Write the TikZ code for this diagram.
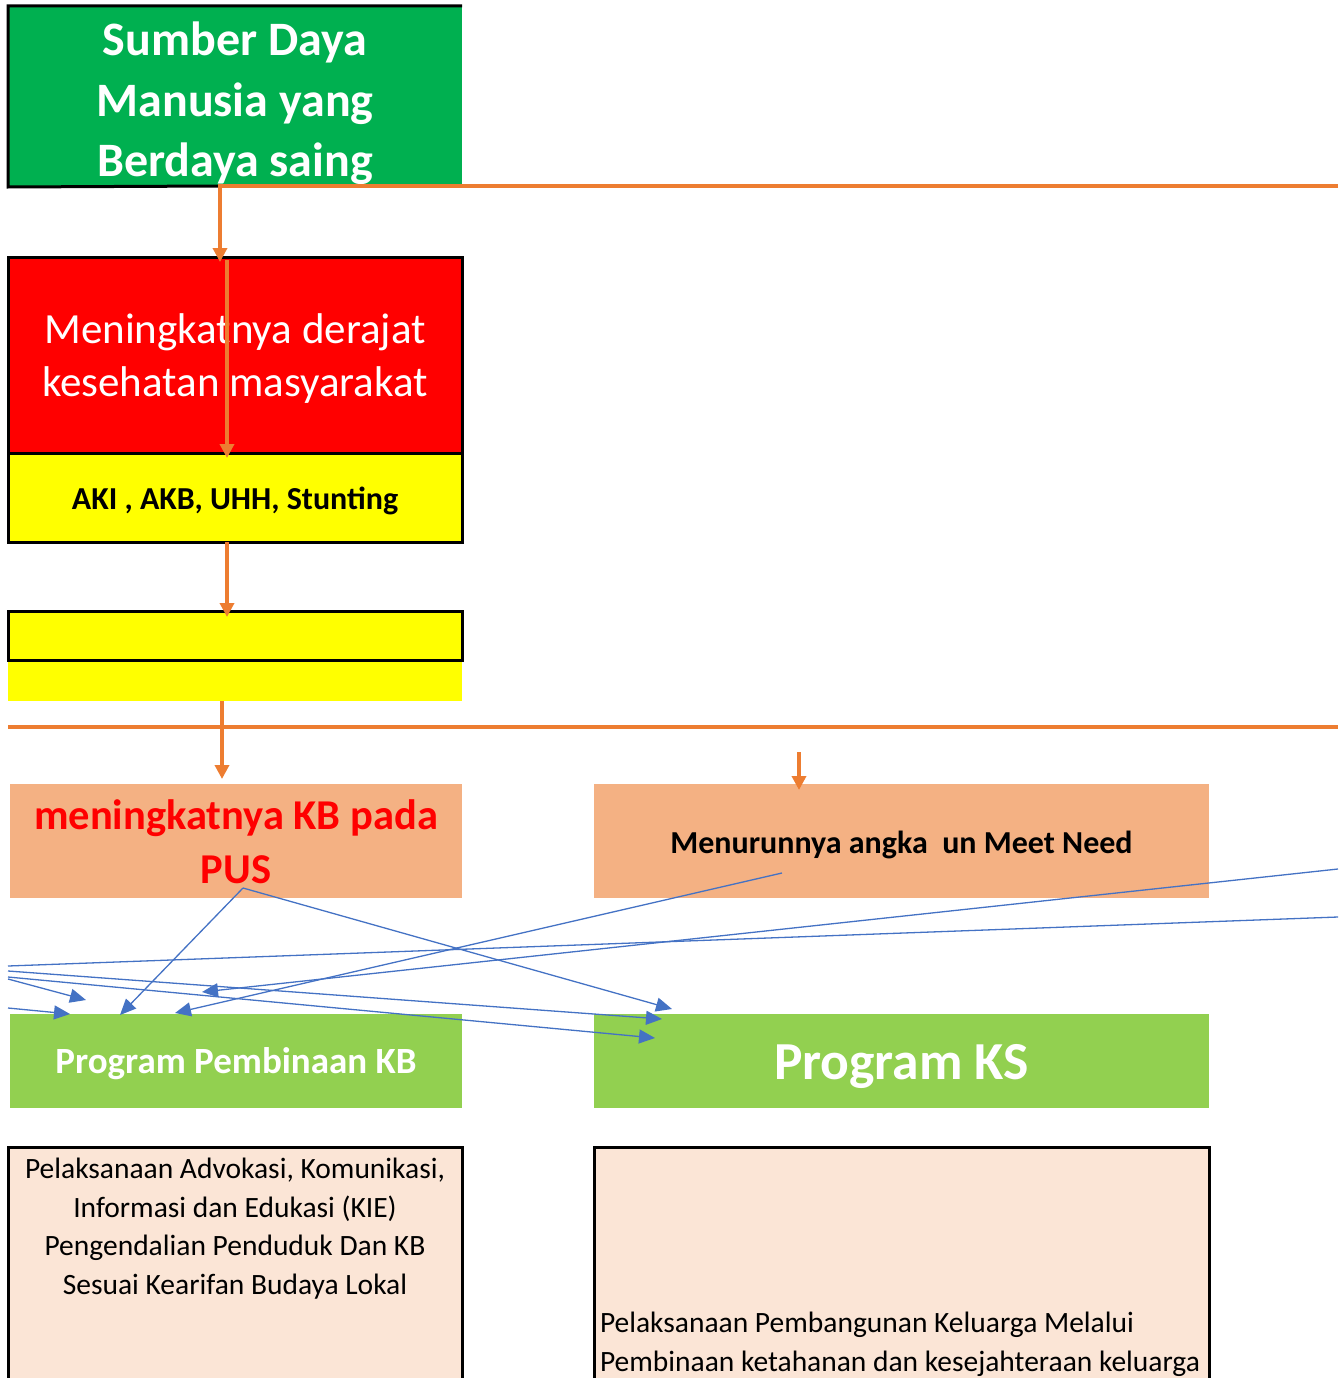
\documentclass[tikz,border=0pt]{standalone}
\usepackage{fontspec}
\setmainfont{Carlito}
\usetikzlibrary{arrows.meta}
\definecolor{hijau}{HTML}{00B050}
\definecolor{merah}{HTML}{FF0000}
\definecolor{kuning}{HTML}{FFFF00}
\definecolor{oranye}{HTML}{ED7D31}
\definecolor{salem}{HTML}{F4B183}
\definecolor{hijaumuda}{HTML}{92D050}
\definecolor{krem}{HTML}{FBE5D6}
\definecolor{biru}{HTML}{4472C4}
\tikzset{
  kotak/.style={inner sep=0,outer sep=0},
  bingkai/.style={kotak,draw=black,line width=3},
  tulisan/.style={inner sep=0,outer sep=0,align=center},
  garisoranye/.style={oranye,line width=4.5},
  panahoranye/.style={garisoranye,-{Triangle[length=14pt,width=14pt]}},
  panahbiru/.style={biru,line width=1.3,-{Triangle[length=16pt,width=14pt]}},
}
\begin{document}
\begin{tikzpicture}[x=1pt,y=-1pt]
  \useasboundingbox (0,0) rectangle (1338,1378);
  % kotak-kotak
  \node[kotak,fill=hijau,minimum width=454,minimum height=181] (sdm) at (235,96.5) {};
  \node[bingkai,fill=merah,minimum width=454,minimum height=196] (derajat) at (235,355) {};
  \node[bingkai,fill=kuning,minimum width=454,minimum height=89] (aki) at (235,497.5) {};
  \node[kotak,fill=kuning,minimum width=454,minimum height=42] (kosongb) at (235,680) {};
  \node[bingkai,fill=kuning,minimum width=454,minimum height=49] (kosonga) at (235,635.5) {};
  \node[kotak,fill=salem,minimum width=452,minimum height=114] (pus) at (236,841) {};
  \node[kotak,fill=salem,minimum width=615,minimum height=114] (unmet) at (901.5,841) {};
  \node[kotak,fill=hijaumuda,minimum width=452,minimum height=94] (progkb) at (236,1061) {};
  \node[kotak,fill=hijaumuda,minimum width=615,minimum height=94] (progks) at (901.5,1061) {};
  \node[bingkai,fill=krem,minimum width=454,minimum height=260] (kegkb) at (235,1277) {};
  \node[bingkai,fill=krem,minimum width=615,minimum height=260] (kegks) at (901.5,1277) {};
  % tulisan
  \node[tulisan,text=white,font=\fontsize{48}{60.5}\selectfont\bfseries] (sdm teks)
    at ([yshift=-7pt]sdm.center) {Sumber Daya\\Manusia yang\\Berdaya saing};
  \node[tulisan,text=white,font=\fontsize{43}{53}\selectfont] (derajat teks)
    at ([yshift=-4pt]derajat.center) {Meningkatnya derajat\\kesehatan masyarakat};
  \node[tulisan,font=\fontsize{32}{38}\selectfont\bfseries] (aki teks)
    at ([yshift=-3pt]aki.center) {AKI , AKB, UHH, Stunting};
  \node[tulisan,text=merah,font=\fontsize{42.5}{54}\selectfont\bfseries] (pus teks)
    at ([yshift=-1pt]pus.center) {meningkatnya KB pada\\PUS};
  \node[tulisan,font=\fontsize{32}{38}\selectfont\bfseries] (unmet teks)
    at ([yshift=-4pt]unmet.center) {Menurunnya angka~~un Meet Need};
  \node[tulisan,text=white,font=\fontsize{37}{44}\selectfont\bfseries] (progkb teks)
    at ([yshift=-3pt]progkb.center) {Program Pembinaan KB};
  \node[tulisan,text=white,font=\fontsize{53.5}{64}\selectfont\bfseries] (progks teks)
    at ([yshift=-5pt]progks.center) {Program KS};
  \node[tulisan,anchor=north,font=\fontsize{29.5}{38.7}\selectfont] (kegkb teks) at (235,1158)
    {Pelaksanaan Advokasi, Komunikasi,\\Informasi dan Edukasi (KIE)\\Pengendalian Penduduk Dan KB\\Sesuai Kearifan Budaya Lokal};
  \node[tulisan,anchor=north west,align=left,font=\fontsize{29.5}{38.7}\selectfont] (kegks teks) at (600,1312)
    {Pelaksanaan Pembangunan Keluarga Melalui\\Pembinaan ketahanan dan kesejahteraan keluarga};
  % bingkai kotak hijau atas
  \coordinate (sdm bawah) at (220,186);
  \draw[black,line width=3] (sdm bawah) -- (sdm.south west) -- (sdm.north west) -- (sdm.north east);
  % garis oranye
  \coordinate (kanan atas) at (1338,186);
  \coordinate (kiri tengah) at (8,727);
  \coordinate (kanan tengah) at (1338,727);
  \coordinate (unmet atas) at (799,752);
  \draw[panahoranye] (kanan atas) -- (sdm bawah) -- ([xshift=-15pt,yshift=-5pt]derajat.north);
  \draw[panahoranye] ([xshift=-8pt,yshift=-3pt]derajat.north) -- ([xshift=-8pt,yshift=-5pt]aki.north);
  \draw[panahoranye] ([xshift=-8pt]aki.south) -- ([xshift=-8pt,yshift=-6pt]kosonga.north);
  \draw[garisoranye] (kiri tengah) -- (kanan tengah);
  \draw[panahoranye] ([xshift=-13pt]kosongb.south) -- ([xshift=-14pt,yshift=5pt]pus.north);
  \draw[panahoranye] (unmet atas) -- ([xshift=-102.5pt,yshift=-6pt]unmet.north);
  % garis biru
  \coordinate (pus bawah) at (243,888);
  \coordinate (unmet bawah) at (782,873);
  \coordinate (kanan a) at (1338,869);
  \coordinate (kanan b) at (1338,917);
  \coordinate (kiri a) at (8,966);
  \coordinate (kiri b) at (8,971);
  \coordinate (kiri c) at (8,977);
  \coordinate (kiri d) at (8,979);
  \coordinate (kiri e) at (8,1008);
  \coordinate (kb a) at (120,1015);
  \coordinate (kb b) at (175,1013);
  \coordinate (kb c) at (202,992);
  \coordinate (kb d) at (86,1000);
  \coordinate (kb e) at (70,1014);
  \coordinate (ks a) at (672,1009);
  \coordinate (ks b) at (662,1019);
  \coordinate (ks c) at (655,1038);
  \draw[biru,line width=1.3] (kiri a) -- (kanan b);
  \foreach \dari/\ke in {pus bawah/kb a,pus bawah/ks a,unmet bawah/kb b,kanan a/kb c,
      kiri b/ks b,kiri c/ks c,kiri d/kb d,kiri e/kb e}
    \draw[panahbiru] (\dari) -- (\ke);
\end{tikzpicture}
\end{document}
